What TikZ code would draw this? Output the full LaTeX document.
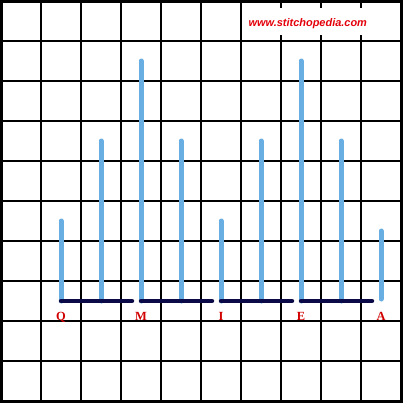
\documentclass[tikz,border=0pt]{standalone}
\usepackage{fontspec}
\newfontfamily\sitefont{Liberation Sans}
\newfontfamily\labfont{Liberation Serif}
\definecolor{stitchblue}{RGB}{104,174,226}
\definecolor{stitchnavy}{RGB}{10,10,72}
\definecolor{labred}{RGB}{210,0,0}
\definecolor{sitered}{RGB}{228,0,10}
\tikzset{
  gridline/.style={line width=1.7bp, black},
  frameline/.style={line width=3bp, black},
  upstitch/.style={line width=5bp, stitchblue, line cap=round},
  basestitch/.style={line width=4.5bp, stitchnavy, line cap=round},
  letterlab/.style={text=labred, font=\labfont\bfseries\fontsize{12.5}{13}\selectfont, anchor=base, inner sep=0pt},
}
\begin{document}
\begin{tikzpicture}[x={(1bp,0)}, y={(0,-1bp)}]
\useasboundingbox (0,0) rectangle (403,403);
\fill[white] (0,0) rectangle (403,403);
% grid
\foreach \k in {41,81,...,361} {
  \draw[gridline] (\k,1) -- (\k,401);
  \draw[gridline] (1,\k) -- (401,\k);
}
% website label
\fill[white] (243,8) rectangle (375,35);
\node[text=sitered, font=\sitefont\bfseries\itshape\fontsize{11}{12}\selectfont, inner sep=0pt, anchor=base] (site) at (307.8,26.7) {www.stitchopedia.com};
% frame
\draw[frameline] (1,1) rectangle (401,401);
% vertical stitches
\foreach \x/\t/\b in {61/221/301, 101/141/301, 141/61/301, 181/141/301, 221/221/301, 261/141/301, 301/61/301, 341/141/301, 381/231/299} {
  \draw[upstitch] (\x,\t) -- (\x,\b);
}
% base stitches
\foreach \x in {61,141,221,301} {
  \coordinate (s\x) at (\x,301);
  \coordinate (e\x) at (\x+71,301);
  \draw[basestitch] (s\x) -- (e\x);
}
% letters
\node[letterlab] (lq) at (61,320) {Q};
\node[letterlab] (lm) at (141,320) {M};
\node[letterlab] (li) at (221,320) {I};
\node[letterlab] (le) at (301,320) {E};
\node[letterlab] (la) at (381,320) {A};
\end{tikzpicture}
\end{document}
